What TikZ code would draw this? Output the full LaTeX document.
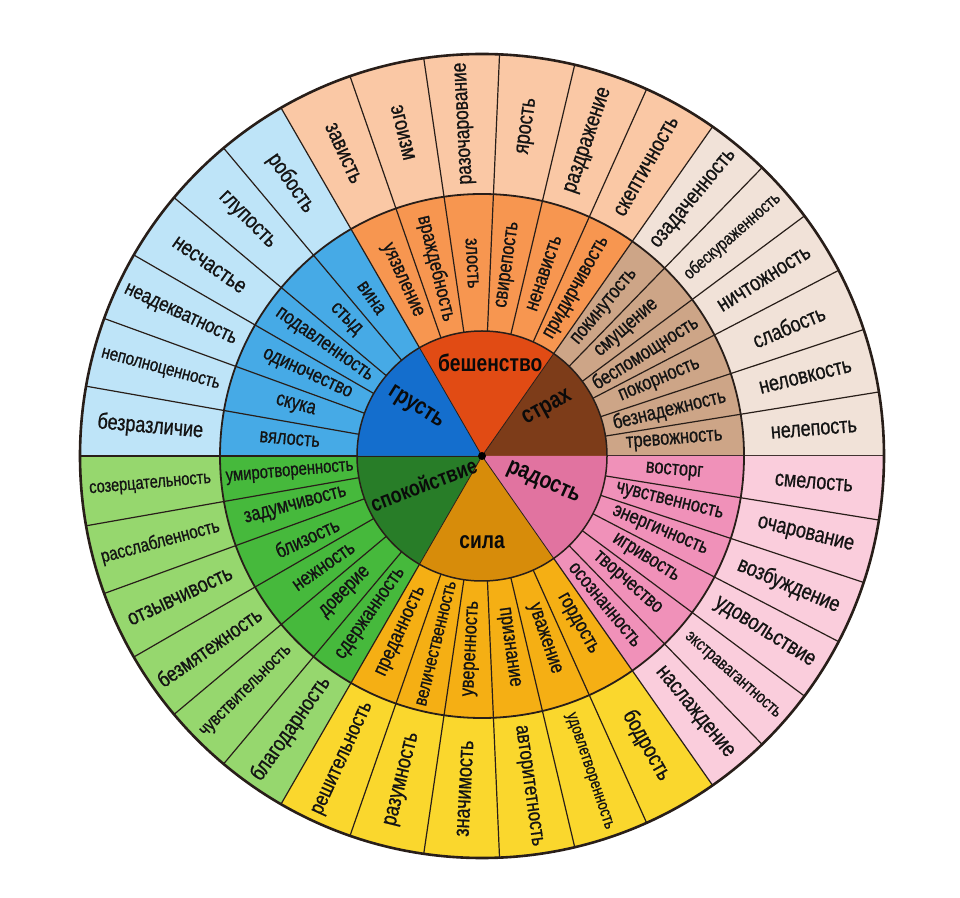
\documentclass[tikz,border=0pt]{standalone}
\usepackage{fontspec}
\setmainfont{Liberation Sans}[FakeStretch=0.8, FakeBold=0.8, BoldFeatures={FakeBold=0}]
\usepackage{graphicx}
\definecolor{lineC}{RGB}{40,30,25}
\definecolor{inBr}{RGB}{125,60,25}
\definecolor{midBr}{RGB}{205,165,135}
\definecolor{outBr}{RGB}{241,226,216}
\definecolor{inRd}{RGB}{225,75,20}
\definecolor{midRd}{RGB}{247,150,80}
\definecolor{outRd}{RGB}{250,200,165}
\definecolor{inBl}{RGB}{20,110,205}
\definecolor{midBl}{RGB}{70,170,230}
\definecolor{outBl}{RGB}{190,228,248}
\definecolor{inGn}{RGB}{40,125,40}
\definecolor{midGn}{RGB}{70,185,60}
\definecolor{outGn}{RGB}{150,215,110}
\definecolor{inOr}{RGB}{215,140,10}
\definecolor{midOr}{RGB}{245,175,20}
\definecolor{outOr}{RGB}{250,215,45}
\definecolor{inPk}{RGB}{225,115,160}
\definecolor{midPk}{RGB}{240,145,185}
\definecolor{outPk}{RGB}{250,205,220}
\newsavebox\fitsave
\newcommand\fittext[2]{\sbox\fitsave{#2}\ifdim\wd\fitsave>#1\relax\resizebox{#1}{!}{\usebox\fitsave}\else\usebox\fitsave\fi}
\newcommand\annsec[5]{\fill[#5] (#1:#3) arc[start angle=#1,end angle=#2,radius=#3] -- (#2:#4) arc[start angle=#2,end angle=#1,radius=#4] -- cycle;}
\newcommand\ringtext[8]{%
 \foreach \t [count=\i from 0] in {#8}{%
  \pgfmathsetmacro\a{#1+(\i+0.5)*(#2-#1)/6}%
  \pgfmathsetmacro\rot{and(\a>#5,\a<270) ? \a-180 : \a}%
  \node[#7,rotate=\rot] (#6\i) at (\a:#3) {\fittext{#4}{\t}};
 }}
\begin{document}
\begin{tikzpicture}[x=1pt,y=1pt,
 sep/.style={draw=lineC, line width=1.2pt},
 outT/.style={inner sep=0pt, text={rgb,255:red,20;green,20;blue,20}, font=\fontsize{22.5}{24}\selectfont},
 midT/.style={inner sep=0pt, text={rgb,255:red,20;green,20;blue,20}, font=\fontsize{20.5}{22}\selectfont},
 inT/.style={inner sep=0pt, text={rgb,255:red,10;green,10;blue,10}, font=\fontsize{24}{26}\selectfont\bfseries},
]
\useasboundingbox (0,0) rectangle (960,897);
\fill[white] (0,0) rectangle (960,897);
\begin{scope}[shift={(482,441)}]
\foreach \s/\e/\ci/\cm/\co in {0/55/inBr/midBr/outBr, 55/120/inRd/midRd/outRd, 120/180/inBl/midBl/outBl, 180/240/inGn/midGn/outGn, 240/305/inOr/midOr/outOr, 305/360/inPk/midPk/outPk}{
  \fill[\ci] (0,0) -- (\s:125pt) arc[start angle=\s,end angle=\e,radius=125pt] -- cycle;
  \annsec{\s}{\e}{125pt}{262pt}{\cm}
  \annsec{\s}{\e}{262pt}{402pt}{\co}
  \draw[draw=lineC, line width=0.8pt] (0,0) -- (\s:125pt);
  \foreach \k in {0,...,5}{
    \pgfmathsetmacro\b{\s+\k*(\e-\s)/6}
    \draw[sep] (\b:125pt) -- (\b:402pt);
  }
}
\draw[draw=lineC, line width=1.5pt] (0,0) circle[radius=125pt];
\draw[draw=lineC, line width=1.8pt] (0,0) circle[radius=262pt];
\draw[draw=lineC, line width=2.6pt] (0,0) circle[radius=402pt];
\fill[black] (0,0) circle[radius=4pt];
% middle ring
\ringtext{0}{55}{193pt}{128pt}{90}{mA}{midT}{тревожность,безнадежность,покорность,беспомощность,смущение,покинутость}
\ringtext{55}{120}{193pt}{128pt}{90}{mB}{midT}{придирчивость,ненависть,свирепость,злость,враждебность,уязвление}
\ringtext{120}{180}{193pt}{128pt}{90}{mC}{midT}{вина,стыд,подавленность,одиночество,скука,вялость}
\ringtext{180}{240}{193pt}{128pt}{90}{mD}{midT}{умиротворенность,задумчивость,близость,нежность,доверие,сдержанность}
\ringtext{240}{305}{193pt}{128pt}{90}{mE}{midT}{преданность,величественность,уверенность,признание,уважение,гордость}
\ringtext{305}{360}{193pt}{128pt}{90}{mF}{midT}{осознанность,творчество,игривость,энергичность,чувственность,восторг}
% outer ring
\ringtext{0}{55}{333pt}{122pt}{95}{oA}{outT}{нелепость,неловкость,слабость,ничтожность,обескураженность,озадаченность}
\ringtext{55}{120}{333pt}{122pt}{95}{oB}{outT}{скептичность,раздражение,ярость,разочарование,эгоизм,зависть}
\ringtext{120}{180}{333pt}{122pt}{95}{oC}{outT}{робость,глупость,несчастье,неадекватность,неполноценность,безразличие}
\ringtext{180}{240}{333pt}{122pt}{95}{oD}{outT}{созерцательность,расслабленность,отзывчивость,безмятежность,чувствительность,благодарность}
\ringtext{240}{305}{333pt}{122pt}{95}{oE}{outT}{решительность,разумность,значимость,авторитетность,удовлетворенность,бодрость}
\ringtext{305}{360}{333pt}{122pt}{95}{oF}{outT}{наслаждение,экстравагантность,удовольствие,возбуждение,очарование,смелость}
% inner labels
\node[inT] (rage) at (85:94pt) {\fittext{108pt}{бешенство}};
\node[inT,rotate=29] (fear) at (36:81pt) {\fittext{108pt}{страх}};
\node[inT,rotate=-24] (joy) at (-24:67pt) {\fittext{108pt}{радость}};
\node[inT] (power) at (270:86pt) {\fittext{108pt}{сила}};
\node[inT,rotate=21] (calm) at (206:65pt) {\fittext{112pt}{спокойствие}};
\node[inT,rotate=-32] (sad) at (144:82pt) {\fittext{108pt}{грусть}};
\end{scope}
\end{tikzpicture}
\end{document}
